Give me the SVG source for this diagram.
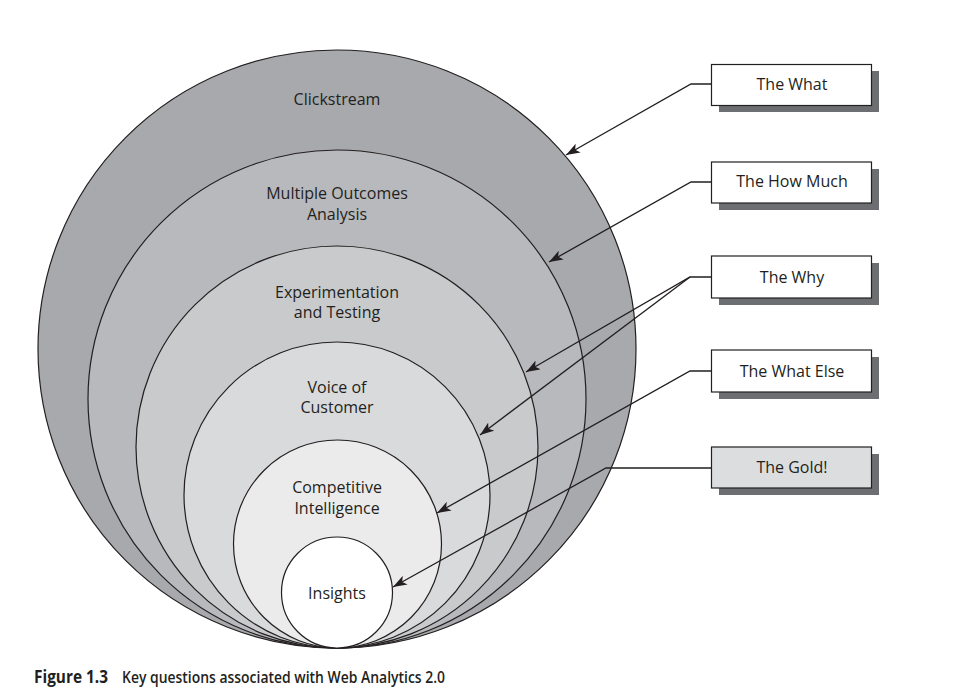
<svg xmlns="http://www.w3.org/2000/svg" width="969" height="696" viewBox="0 0 969 696">
<style>
.ring{stroke:#231f20;stroke-width:1.2}
.lbl{font-family:"Open Sans","Liberation Sans",sans-serif;font-size:16px;fill:#231f20;text-anchor:middle}
.box{fill:#ffffff;stroke:#231f20;stroke-width:1.2}
.shadow{fill:#6d6e71}
.conn{fill:none;stroke:#231f20;stroke-width:1.3}
.cap{font-family:"Open Sans","Liberation Sans",sans-serif;font-size:17px;fill:#231f20}
</style>
<defs>
<marker id="ah" viewBox="0 0 14 10" refX="14" refY="5" markerWidth="14" markerHeight="10" markerUnits="userSpaceOnUse" orient="auto">
<path d="M0,0 L14,5 L0,10 L3.5,5 Z" fill="#231f20"/>
</marker>
</defs>
<rect width="969" height="696" fill="#ffffff"/>
<g id="clickstream"><circle class="ring" cx="337" cy="349" r="299" fill="#a8a9ac"/><text class="lbl" x="337" y="105">Clickstream</text></g>
<g id="multiple-outcomes"><circle class="ring" cx="337" cy="399" r="249" fill="#b8b9bc"/><text class="lbl" x="337" y="199">Multiple Outcomes</text><text class="lbl" x="337" y="220">Analysis</text></g>
<g id="experimentation"><circle class="ring" cx="337" cy="447" r="201" fill="#c9cacc"/><text class="lbl" x="337" y="298">Experimentation</text><text class="lbl" x="337" y="318">and Testing</text></g>
<g id="voice"><circle class="ring" cx="337" cy="495" r="153" fill="#d9dadc"/><text class="lbl" x="337" y="393">Voice of</text><text class="lbl" x="337" y="413">Customer</text></g>
<g id="competitive"><circle class="ring" cx="337.5" cy="544" r="104" fill="#ebebec"/><text class="lbl" x="337" y="493">Competitive</text><text class="lbl" x="337" y="514">Intelligence</text></g>
<g id="insights"><circle class="ring" cx="337" cy="592.5" r="55.5" fill="#ffffff"/><text class="lbl" x="337" y="599">Insights</text></g>

<g id="box-what"><rect class="shadow" x="719" y="71" width="160" height="41"/><rect class="box" x="711.5" y="64.5" width="160" height="41"/><text class="lbl" x="792" y="90">The What</text></g>
<g id="box-howmuch"><rect class="shadow" x="719" y="169" width="160" height="41"/><rect class="box" x="711.5" y="162" width="160" height="41"/><text class="lbl" x="792" y="187">The How Much</text></g>
<g id="box-why"><rect class="shadow" x="719" y="263" width="160" height="42"/><rect class="box" x="711.5" y="256" width="160" height="42"/><text class="lbl" x="792" y="283">The Why</text></g>
<g id="box-whatelse"><rect class="shadow" x="719" y="357" width="160" height="42"/><rect class="box" x="711.5" y="350" width="160" height="42"/><text class="lbl" x="792" y="377">The What Else</text></g>
<g id="box-gold"><rect class="shadow" x="719" y="454" width="160" height="41"/><rect class="box" x="711.5" y="447" width="160" height="41" style="fill:#dcdddf"/><text class="lbl" x="792" y="473">The Gold!</text></g>

<g id="connectors">
<polyline class="conn" points="711,84 691,84 566,155" marker-end="url(#ah)"/>
<polyline class="conn" points="711,182 691,182 549,262" marker-end="url(#ah)"/>
<polyline class="conn" points="711,277 690,277 526,372" marker-end="url(#ah)"/>
<polyline class="conn" points="690,277 480,435" marker-end="url(#ah)"/>
<polyline class="conn" points="711,371 690,371 437,513" marker-end="url(#ah)"/>
<polyline class="conn" points="711,468 606,468 393,587" marker-end="url(#ah)"/>
</g>

<g id="caption">
<text class="cap" x="34" y="683" font-weight="bold" textLength="74" lengthAdjust="spacingAndGlyphs">Figure 1.3</text>
<text class="cap" x="122" y="683" font-weight="600" textLength="323" lengthAdjust="spacingAndGlyphs">Key questions associated with Web Analytics 2.0</text>
</g>
</svg>
